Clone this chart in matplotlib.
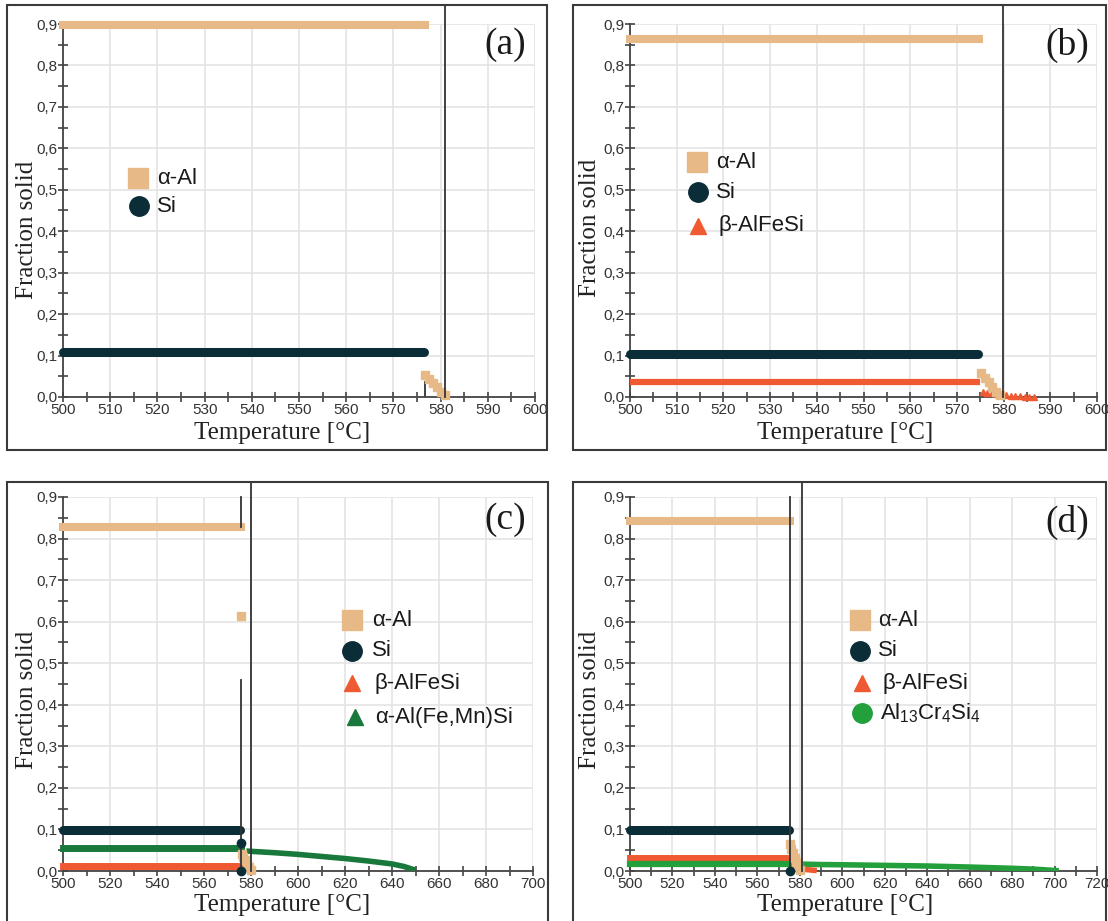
import matplotlib
matplotlib.use('Agg')
import matplotlib.pyplot as plt
from matplotlib.patches import Rectangle
from matplotlib.lines import Line2D
from matplotlib.ticker import MultipleLocator, FuncFormatter

plt.rcParams['font.family'] = ['Liberation Sans', 'DejaVu Sans']
plt.rcParams['mathtext.fontset'] = 'custom'
plt.rcParams['mathtext.rm'] = 'Liberation Sans'
plt.rcParams['mathtext.it'] = 'Liberation Sans'
plt.rcParams['mathtext.default'] = 'regular'

W, H = 1108, 921

# ---------------- data ----------------
# panel (a)
a_al_T = [500, 576.6]
a_al_f = [0.897, 0.897]
a_al_tail_T = [576.8, 577.6, 578.4, 579.2, 580.0, 580.9]
a_al_tail_f = [0.053, 0.043, 0.033, 0.023, 0.013, 0.004]
a_si_T = [500, 576.4]
a_si_f = [0.108, 0.108]
a_liq = 580.9
a_eut = 576.8

# panel (b)
b_al_T = [500, 574.8]
b_al_f = [0.864, 0.864]
b_al_tail_T = [575.2, 576.0, 576.8, 577.6, 578.4, 579.2]
b_al_tail_f = [0.057, 0.046, 0.035, 0.024, 0.013, 0.004]
b_si_T = [500, 574.6]
b_si_f = [0.104, 0.104]
b_beta_T = [500, 575.0]
b_beta_f = [0.036, 0.036]
b_beta_tail_T = [575.5, 576.5, 577.5, 578.5, 579.5, 580.5, 581.5, 582.5, 583.5, 584.5, 585.5, 586.5]
b_beta_tail_f = [0.011, 0.010, 0.009, 0.008, 0.006, 0.004, 0.003, 0.002, 0.002, 0.001, 0.001, 0.0]
b_liq = 579.8

# panel (c)
c_al_T = [500, 575.8]
c_al_f = [0.828, 0.828]
c_al_mid_T = [575.6]
c_al_mid_f = [0.613]
c_al_tail_T = [576.0, 576.8, 577.6, 578.4, 579.2, 580.0]
c_al_tail_f = [0.042, 0.034, 0.026, 0.018, 0.010, 0.002]
c_si_T = [500, 575.4]
c_si_f = [0.099, 0.099]
c_si_pts_T = [575.6, 575.8]
c_si_pts_f = [0.068, 0.0]
c_beta_T = [500, 575.8]
c_beta_f = [0.012, 0.012]
c_afm_T = [500, 575.8]
c_afm_f = [0.055, 0.055]
c_afm_tail_T = [578, 590, 600, 610, 620, 630, 640, 645, 650]
c_afm_tail_f = [0.048, 0.044, 0.040, 0.035, 0.030, 0.024, 0.017, 0.011, 0.002]
c_eut = 575.8
c_liq = 580.0

# panel (d)
d_al_T = [500, 575.3]
d_al_f = [0.842, 0.842]
d_al_tail_T = [575.2, 576.0, 576.8, 577.6, 578.4, 579.2, 580.0]
d_al_tail_f = [0.064, 0.054, 0.043, 0.032, 0.021, 0.011, 0.002]
d_si_T = [500, 575.0]
d_si_f = [0.099, 0.099]
d_si_pts_T = [575.2]
d_si_pts_f = [0.0]
d_beta_T = [500, 575.3]
d_beta_f = [0.031, 0.031]
d_beta_tail_T = [576, 578, 580, 582, 584, 586, 588]
d_beta_tail_f = [0.005, 0.005, 0.004, 0.004, 0.003, 0.002, 0.001]
d_cr_T = [500, 575.3]
d_cr_f = [0.016, 0.016]
d_cr_tail_T = [577, 590, 600, 620, 640, 660, 680, 690, 695, 702]
d_cr_tail_f = [0.017, 0.0155, 0.015, 0.0135, 0.012, 0.0095, 0.0065, 0.0045, 0.003, 0.0005]
d_eut = 575.4
d_liq = 580.8

C_AL = '#E6B987'
C_SI = '#0A2D37'
C_BETA = '#F05A32'
C_AFM = '#19783C'
C_CR = '#23A03C'
C_LINE = '#333333'

fig = plt.figure(figsize=(W / 100, H / 100), dpi=100)
fig.patch.set_facecolor('white')


def fx(x):
    return x / W


def fy(y):
    return 1 - y / H


def make_ax(box, xlim, xmaj, xmin):
    l, t, r, b = box
    ax = fig.add_axes([fx(l), fy(b), (r - l) / W, (b - t) / H])
    ax.set_xlim(*xlim)
    ax.set_ylim(0, 0.9)
    for s in ['top', 'right']:
        ax.spines[s].set_visible(False)
    for s in ['left', 'bottom']:
        ax.spines[s].set_color('#444444')
        ax.spines[s].set_linewidth(1.3)
    ax.xaxis.set_major_locator(MultipleLocator(xmaj))
    ax.xaxis.set_minor_locator(MultipleLocator(xmin))
    ax.yaxis.set_major_locator(MultipleLocator(0.1))
    ax.yaxis.set_minor_locator(MultipleLocator(0.05))
    ax.yaxis.set_major_formatter(FuncFormatter(lambda v, p: f"{v:.1f}".replace('.', ',')))
    ax.tick_params(which='both', direction='inout', length=7, width=1.2,
                   color='#444444', labelsize=11, labelcolor='#333333')
    ax.tick_params(axis='x', pad=1)
    ax.tick_params(axis='y', pad=0.5)
    ax.grid(True, which='major', color='#e4e4e4', linewidth=1.2)
    ax.set_axisbelow(True)
    ax.set_xlabel('Temperature [°C]', family=['Liberation Serif'], fontsize=18, color='#222222')
    ax.set_ylabel('Fraction solid', family=['Liberation Serif'], fontsize=18, color='#222222')
    return ax


def place_labels(ax, box, xl, yl):
    l, t, r, b = box
    ax.xaxis.label.set_va('center')
    ax.xaxis.set_label_coords((xl[0] - l) / (r - l), (b - xl[1]) / (b - t))
    ax.yaxis.label.set_va('center')
    ax.yaxis.set_label_coords((yl[0] - l) / (r - l), (b - yl[1]) / (b - t))


def frame(l, t, r, b):
    fig.add_artist(Rectangle((fx(l), fy(b)), (r - l) / W, (b - t) / H,
                             transform=fig.transFigure, fill=False,
                             edgecolor='#3a3a3a', linewidth=1.5))


def hband(ax, T, f, color, lw, cap, z):
    ax.plot(T, f, color=color, lw=lw, solid_capstyle=cap, clip_on=False, zorder=z)


def legend(items):
    for (mx, my, marker, color, ms, tx, label) in items:
        fig.add_artist(Line2D([fx(mx)], [fy(my)], marker=marker, color=color, ms=ms,
                              linestyle='none', transform=fig.transFigure))
        fig.text(fx(tx), fy(my), label, fontsize=16, color='#1a1a1a', va='center', ha='left')


# frames
frame(7, 5, 547, 450)
frame(573, 5, 1106, 450)
frame(7, 482, 548, 925)
frame(573, 482, 1106, 925)

# ---------- panel (a) ----------
boxA = (63, 24, 535, 397)
axA = make_ax(boxA, (500, 600), 10, 5)
place_labels(axA, boxA, (282, 433), (27, 230))
hband(axA, a_al_T, a_al_f, C_AL, 5.8, 'projecting', 3)
hband(axA, a_si_T, a_si_f, C_SI, 6.5, 'round', 4)
axA.plot(a_al_tail_T, a_al_tail_f, 's', color=C_AL, ms=6, clip_on=False, zorder=3)
axA.plot([a_liq, a_liq], [0, 0.946], color=C_LINE, lw=1.3, clip_on=False, zorder=5)
axA.plot([a_eut, a_eut], [0, 0.037], color=C_LINE, lw=1.3, zorder=2)
fig.text(fx(505), fy(45), '(a)', family=['Liberation Serif'], fontsize=27,
         ha='center', va='center', color='#1a1a1a')
legend([(138, 178, 's', C_AL, 14, 157, 'α-Al'),
        (139, 206, 'o', C_SI, 14, 157, 'Si')])

# ---------- panel (b) ----------
boxB = (630, 24, 1097, 397)
axB = make_ax(boxB, (500, 600), 10, 5)
place_labels(axB, boxB, (845, 433), (590, 228))
hband(axB, b_al_T, b_al_f, C_AL, 5.8, 'projecting', 3)
hband(axB, b_si_T, b_si_f, C_SI, 6.5, 'round', 4)
hband(axB, b_beta_T, b_beta_f, C_BETA, 4.5, 'butt', 3)
axB.plot(b_beta_tail_T, b_beta_tail_f, '^', color=C_BETA, ms=5, clip_on=False, zorder=3)
axB.plot(b_al_tail_T, b_al_tail_f, 's', color=C_AL, ms=6, clip_on=False, zorder=4)
axB.plot([b_liq, b_liq], [0, 0.946], color=C_LINE, lw=1.3, clip_on=False, zorder=5)
fig.text(fx(1067), fy(45), '(b)', family=['Liberation Serif'], fontsize=27,
         ha='center', va='center', color='#1a1a1a')
legend([(697, 162, 's', C_AL, 14, 716, 'α-Al'),
        (698, 192, 'o', C_SI, 14, 716, 'Si'),
        (698, 226, '^', C_BETA, 12, 718, 'β-AlFeSi')])

# ---------- panel (c) ----------
boxC = (63, 497, 533, 871)
axC = make_ax(boxC, (500, 700), 20, 10)
place_labels(axC, boxC, (282, 905), (27, 700))
hband(axC, c_al_T, c_al_f, C_AL, 5.8, 'projecting', 3)
hband(axC, c_beta_T, c_beta_f, C_BETA, 5.0, 'projecting', 3)
hband(axC, c_afm_T, c_afm_f, C_AFM, 5.0, 'projecting', 3)
axC.plot(c_afm_tail_T, c_afm_tail_f, color=C_AFM, lw=4.0, solid_capstyle='butt', zorder=3)
hband(axC, c_si_T, c_si_f, C_SI, 6.5, 'round', 4)
axC.plot(c_si_pts_T, c_si_pts_f, 'o', color=C_SI, ms=6, clip_on=False, zorder=6)
axC.plot(c_al_mid_T, c_al_mid_f, 's', color=C_AL, ms=6, zorder=4)
axC.plot(c_al_tail_T, c_al_tail_f, 's', color=C_AL, ms=6, clip_on=False, zorder=4)
axC.plot([c_eut, c_eut], [0.828, 0.9], color=C_LINE, lw=1.3, clip_on=False, zorder=5)
axC.plot([c_eut, c_eut], [0, 0.46], color=C_LINE, lw=1.3, zorder=5)
axC.plot([c_liq, c_liq], [0, 0.934], color=C_LINE, lw=1.3, clip_on=False, zorder=5)
fig.text(fx(505), fy(520), '(c)', family=['Liberation Serif'], fontsize=27,
         ha='center', va='center', color='#1a1a1a')
legend([(352, 620, 's', C_AL, 14, 372, 'α-Al'),
        (352, 651, 'o', C_SI, 14, 372, 'Si'),
        (352, 683, '^', C_BETA, 12, 375, 'β-AlFeSi'),
        (355, 717, '^', C_AFM, 12, 375, 'α-Al(Fe,Mn)Si')])

# ---------- panel (d) ----------
boxD = (630, 497, 1097, 871)
axD = make_ax(boxD, (500, 720), 20, 10)
place_labels(axD, boxD, (845, 905), (590, 700))
hband(axD, d_al_T, d_al_f, C_AL, 5.8, 'projecting', 3)
hband(axD, d_beta_T, d_beta_f, C_BETA, 5.0, 'projecting', 3)
hband(axD, d_cr_T, d_cr_f, C_CR, 4.5, 'projecting', 3)
axD.plot(d_cr_tail_T, d_cr_tail_f, color=C_CR, lw=4.0, solid_capstyle='butt', zorder=3)
axD.plot(d_beta_tail_T, d_beta_tail_f, color=C_BETA, lw=4.0, solid_capstyle='butt', clip_on=False, zorder=3)
hband(axD, d_si_T, d_si_f, C_SI, 6.5, 'round', 4)
axD.plot([d_si_T[-1], d_si_T[-1]], [d_si_pts_f[0], d_si_f[-1]], color='#7a9aaa', lw=0.8, zorder=2)
axD.plot(d_si_pts_T, d_si_pts_f, 'o', color=C_SI, ms=6, clip_on=False, zorder=6)
axD.plot(d_al_tail_T, d_al_tail_f, 's', color=C_AL, ms=6, clip_on=False, zorder=4)
axD.plot([d_eut, d_eut], [0, 0.9], color=C_LINE, lw=1.3, clip_on=False, zorder=5)
axD.plot([d_liq, d_liq], [0, 0.934], color=C_LINE, lw=1.3, clip_on=False, zorder=5)
fig.text(fx(1067), fy(522), '(d)', family=['Liberation Serif'], fontsize=27,
         ha='center', va='center', color='#1a1a1a')
legend([(860, 620, 's', C_AL, 14, 878, 'α-Al'),
        (860, 651, 'o', C_SI, 14, 878, 'Si'),
        (862, 683, '^', C_BETA, 12, 882, 'β-AlFeSi'),
        (862, 713, 'o', C_CR, 14, 880, r'Al$_{13}$Cr$_4$Si$_4$')])

fig.savefig('out.png', dpi=100)
